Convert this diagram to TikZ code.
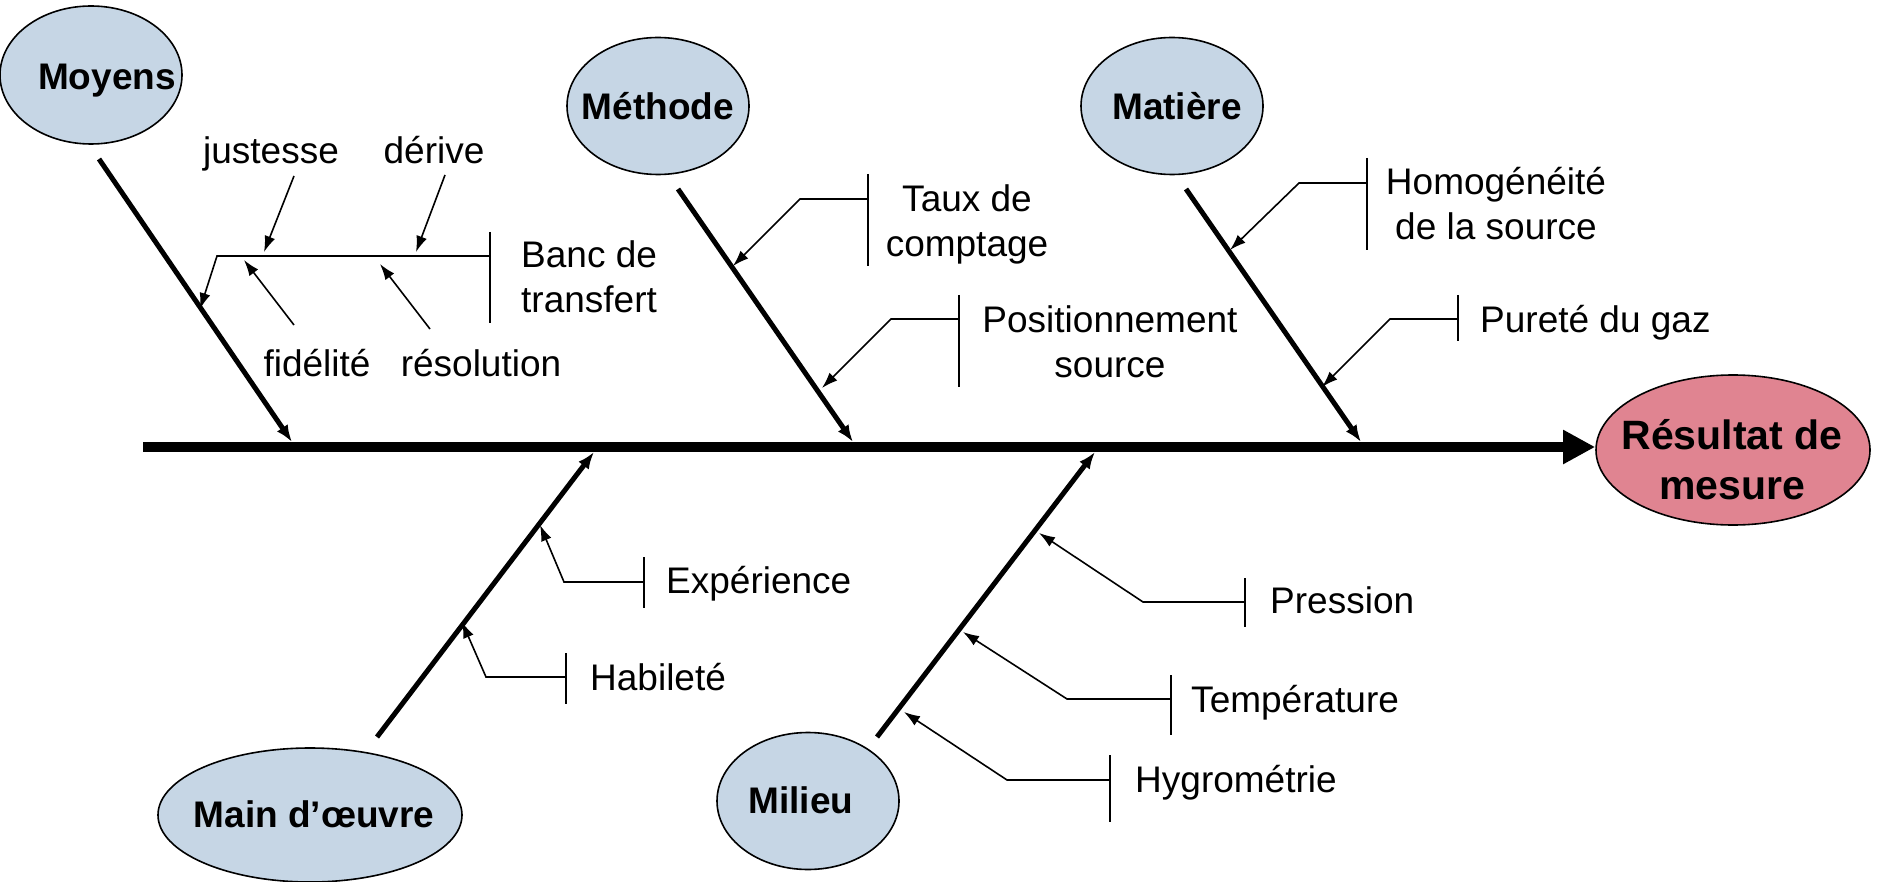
\documentclass[tikz,border=0pt]{standalone}
\usepackage{fontspec}
\setmainfont{Liberation Sans}
\usetikzlibrary{arrows.meta,shapes.geometric}
\definecolor{causeblue}{RGB}{198,214,229}
\definecolor{effectpink}{RGB}{224,132,145}
\newcommand\lblfont{\fontsize{37}{45}\selectfont}
\newcommand\catfont{\fontsize{37}{45}\selectfont\bfseries}
\newcommand\resfont{\fontsize{41}{50}\selectfont\bfseries}
\begin{document}
\begin{tikzpicture}[x=1pt,y=-1pt,
  cause/.style={ellipse,draw,line width=1.6pt,fill=causeblue,inner sep=0pt},
  effect/.style={ellipse,draw,line width=1.6pt,fill=effectpink,inner sep=0pt},
  cat/.style={font=\catfont,inner sep=0pt,anchor=base},
  lbl/.style={font=\lblfont,inner sep=0pt,anchor=base},
  lblw/.style={font=\lblfont,inner sep=0pt,anchor=base west},
  spine/.style={line width=10pt,-{Triangle[length=32pt,width=32pt]}},
  bone/.style={line width=5pt,-{Latex[length=17pt,width=13pt]}},
  bar/.style={line width=1.6pt},
  sub/.style={line width=1.6pt,-{Latex[length=16pt,width=11pt]}}
]
\useasboundingbox (0,0) rectangle (1878,882);

% effect
\node[effect,minimum width=274pt,minimum height=150pt] (res) at (1733,450) {};
\node[font=\resfont,inner sep=0pt,anchor=base] (resT) at (1732,449)
  {\begin{tabular}[t]{@{}c@{}}Résultat de\\mesure\end{tabular}};

% spine
\coordinate (spineL) at (143,447);
\draw[spine] (spineL) -- (spineL -| res.west);

% cause ellipses
\node[cause,minimum width=182pt,minimum height=138pt] (moyens) at (91,75) {};
\node[cat] (moyensT) at (107,90) {Moyens};
\node[cause,minimum width=182pt,minimum height=137pt] (methode) at (658,106) {};
\node[cat] (methodeT) at (658,120) {Méthode};
\node[cause,minimum width=182pt,minimum height=137pt] (matiere) at (1172,106) {};
\node[cat] (matiereT) at (1177,120) {Matière};
\node[cause,minimum width=304pt,minimum height=134pt] (main) at (310,815) {};
\node[cat] (mainT) at (314,827) {Main d’œuvre};
\node[cause,minimum width=182pt,minimum height=137pt] (milieu) at (808,801) {};
\node[cat] (milieuT) at (801,813) {Milieu};

% bones
\coordinate (moyB) at (99,159);   \coordinate (moyE) at (292,442);
\coordinate (metB) at (678,189);  \coordinate (metE) at (853,442);
\coordinate (matB) at (1186,189); \coordinate (matE) at (1361,442);
\coordinate (maiB) at (377,737);  \coordinate (maiE) at (594,452);
\coordinate (milB) at (877,737);  \coordinate (milE) at (1095,452);
\draw[bone] (moyB) -- (moyE);
\draw[bone] (metB) -- (metE);
\draw[bone] (matB) -- (matE);
\draw[bone] (maiB) -- (maiE);
\draw[bone] (milB) -- (milE);

% --- Moyens: Banc de transfert
\node[lblw] (banc) at (521,268)
  {\begin{tabular}[t]{@{}l@{}}Banc de\\transfert\end{tabular}};
\coordinate (bancT) at (490,232); \coordinate (bancB) at (490,323);
\coordinate (bancM) at (490,256); \coordinate (bancK) at (217,256);
\coordinate (bancP) at (200,309);
\draw[bar] (bancT) -- (bancB);
\draw[sub] (bancM) -- (bancK) -- (bancP);

\node[lbl] (justesse) at (271,164) {justesse};
\node[lbl] (derive) at (434,164) {dérive};
\node[lbl] (fidelite) at (317,376) {fidélité};
\node[lbl] (resolution) at (481,376) {résolution};
\coordinate (jusS) at (294,176); \coordinate (jusP) at (264,252);
\coordinate (derS) at (445,175); \coordinate (derP) at (416,252);
\coordinate (fidS) at (294,325); \coordinate (fidP) at (244,260);
\coordinate (resS) at (430,329); \coordinate (resP) at (380,264);
\draw[sub] (jusS) -- (jusP);
\draw[sub] (derS) -- (derP);
\draw[sub] (fidS) -- (fidP);
\draw[sub] (resS) -- (resP);

% --- Méthode
\node[lbl] (taux) at (967,212)
  {\begin{tabular}[t]{@{}c@{}}Taux de\\comptage\end{tabular}};
\coordinate (tauT) at (868,174); \coordinate (tauB) at (868,266);
\coordinate (tauM) at (868,199); \coordinate (tauK) at (800,199);
\coordinate (tauP) at (733,266);
\draw[bar] (tauT) -- (tauB);
\draw[sub] (tauM) -- (tauK) -- (tauP);

\node[lbl] (posit) at (1110,332)
  {\begin{tabular}[t]{@{}c@{}}Positionnement\\source\end{tabular}};
\coordinate (posT) at (959,295); \coordinate (posB) at (959,387);
\coordinate (posM) at (959,319); \coordinate (posK) at (891,319);
\coordinate (posP) at (822,388);
\draw[bar] (posT) -- (posB);
\draw[sub] (posM) -- (posK) -- (posP);

% --- Matière
\node[lbl] (homog) at (1496,195)
  {\begin{tabular}[t]{@{}c@{}}Homogénéité\\de la source\end{tabular}};
\coordinate (homT) at (1367,158); \coordinate (homB) at (1367,250);
\coordinate (homM) at (1367,183); \coordinate (homK) at (1299,183);
\coordinate (homP) at (1230,250);
\draw[bar] (homT) -- (homB);
\draw[sub] (homM) -- (homK) -- (homP);

\node[lblw] (purete) at (1480,332) {Pureté du gaz};
\coordinate (purT) at (1458,295); \coordinate (purB) at (1458,341);
\coordinate (purM) at (1458,319); \coordinate (purK) at (1390,319);
\coordinate (purP) at (1322,387);
\draw[bar] (purT) -- (purB);
\draw[sub] (purM) -- (purK) -- (purP);

% --- Main d'oeuvre
\node[lblw] (experience) at (666,593) {Expérience};
\coordinate (expT) at (644,557); \coordinate (expB) at (644,608);
\coordinate (expM) at (644,582); \coordinate (expK) at (564,582);
\coordinate (expP) at (540,525);
\draw[bar] (expT) -- (expB);
\draw[sub] (expM) -- (expK) -- (expP);

\node[lblw] (habilete) at (590,690) {Habileté};
\coordinate (habT) at (566,653); \coordinate (habB) at (566,704);
\coordinate (habM) at (566,677); \coordinate (habK) at (486,677);
\coordinate (habP) at (462,622);
\draw[bar] (habT) -- (habB);
\draw[sub] (habM) -- (habK) -- (habP);

% --- Milieu
\node[lblw] (pression) at (1270,613) {Pression};
\coordinate (preT) at (1245,578); \coordinate (preB) at (1245,627);
\coordinate (preM) at (1245,602); \coordinate (preK) at (1143,602);
\coordinate (preP) at (1039,533);
\draw[bar] (preT) -- (preB);
\draw[sub] (preM) -- (preK) -- (preP);

\node[lblw] (temperature) at (1191,712) {Température};
\coordinate (temT) at (1171,675); \coordinate (temB) at (1171,735);
\coordinate (temM) at (1171,699); \coordinate (temK) at (1067,699);
\coordinate (temP) at (963,632);
\draw[bar] (temT) -- (temB);
\draw[sub] (temM) -- (temK) -- (temP);

\node[lblw] (hygro) at (1135,792) {Hygrométrie};
\coordinate (hygT) at (1110,755); \coordinate (hygB) at (1110,822);
\coordinate (hygM) at (1110,780); \coordinate (hygK) at (1007,780);
\coordinate (hygP) at (904,712);
\draw[bar] (hygT) -- (hygB);
\draw[sub] (hygM) -- (hygK) -- (hygP);
\end{tikzpicture}
\end{document}
